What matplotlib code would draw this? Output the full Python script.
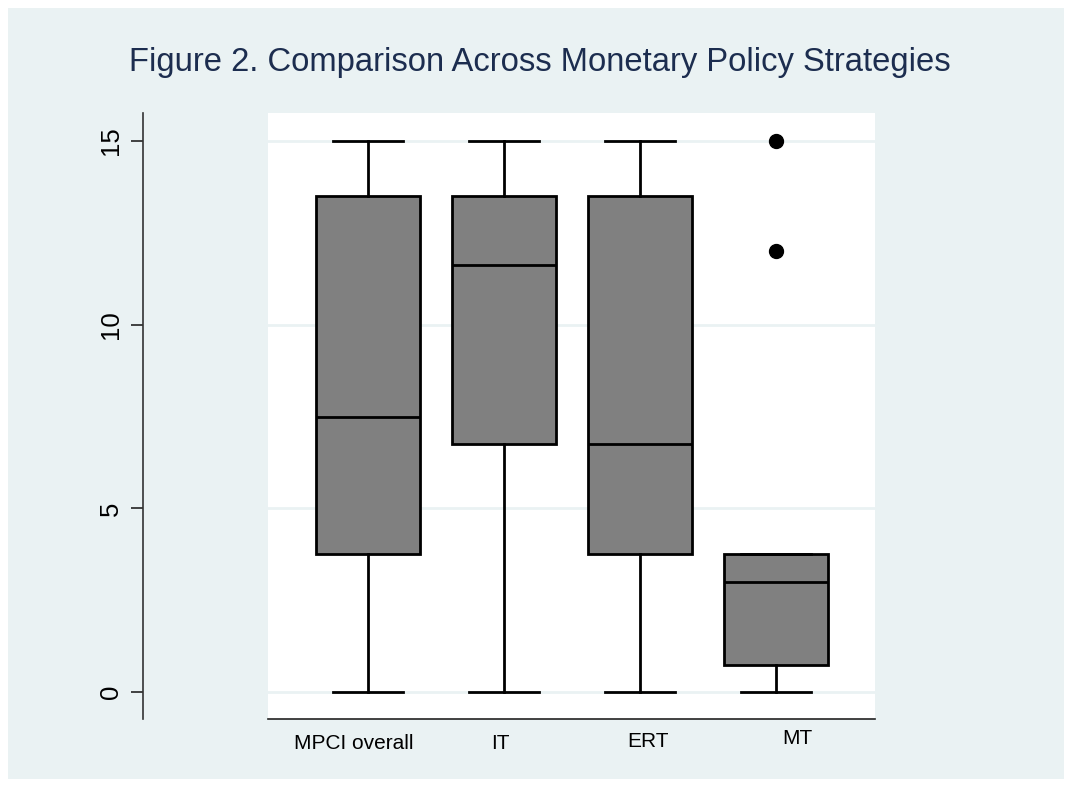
import matplotlib.pyplot as plt
from matplotlib.patches import Rectangle
from matplotlib.transforms import ScaledTranslation

# ---------- Data ----------
groups = ['MPCI overall', 'IT', 'ERT', 'MT']
whislo = [0, 0, 0, 0]
q1 = [3.75, 6.75, 3.75, 0.75]
med = [7.5, 11.63, 6.75, 3.0]
q3 = [13.5, 13.5, 13.5, 3.75]
whishi = [15, 15, 15, 3.75]
outliers = [[], [], [], [12, 15]]
yticks = [0, 5, 10, 15]

# label nudges in pixels (x, y), the source labels sit a bit off-centre
label_dx = [-14, -4, 8, 21]
label_dy = [0, 0, 2, 5]

BG = '#EAF2F3'

plt.rcParams['font.family'] = ['Liberation Sans', 'DejaVu Sans']

fig = plt.figure(figsize=(10.72, 7.87), dpi=100, facecolor='white')
fig.patches.append(Rectangle((8 / 1072, 8 / 787), 1 - 16 / 1072, 1 - 16 / 787,
                             transform=fig.transFigure, facecolor=BG,
                             edgecolor='none', zorder=-10))

ax = fig.add_axes([268 / 1072, 1 - 719 / 787, 607 / 1072, 606 / 787])
ax.set_facecolor('white')

# spines first, moving the left spine resets the ticks
ax.spines['top'].set_visible(False)
ax.spines['right'].set_visible(False)
ax.spines['left'].set_position(('outward', 90))
ax.spines['left'].set_color('#333333')
ax.spines['left'].set_linewidth(1.2)
ax.spines['bottom'].set_color('#222222')
ax.spines['bottom'].set_linewidth(1.2)

stats = []
for i, g in enumerate(groups):
    stats.append(dict(label=g, whislo=whislo[i], q1=q1[i], med=med[i],
                      q3=q3[i], whishi=whishi[i], fliers=outliers[i]))

lw = 2.0
ax.bxp(stats, positions=[1, 2, 3, 4], widths=0.76, patch_artist=True,
       showfliers=True, capwidths=0.52,
       boxprops=dict(facecolor='#808080', edgecolor='black', linewidth=lw),
       medianprops=dict(color='black', linewidth=lw),
       whiskerprops=dict(color='black', linewidth=lw),
       capprops=dict(color='black', linewidth=lw),
       flierprops=dict(marker='o', markerfacecolor='black',
                       markeredgecolor='black', markersize=10))

ax.set_xlim(1 - 100 / 136, 4 + 99 / 136)
ax.set_ylim(-0.73, 15 + 28 / 36.75)

for y in yticks:
    ax.axhline(y, color=BG, linewidth=2, zorder=0)

ax.set_yticks(yticks)
ax.set_yticklabels([str(v) for v in yticks])
ax.tick_params(axis='y', which='major', left=True, direction='out',
               length=8.5, width=1.3, color='#333333',
               labelsize=18.5, pad=6, labelrotation=90)
for lab in ax.get_yticklabels():
    lab.set_verticalalignment('center')
ax.tick_params(axis='x', length=0, labelsize=15, pad=11)

for lab, dx, dy in zip(ax.get_xticklabels(), label_dx, label_dy):
    lab.set_transform(lab.get_transform() +
                      ScaledTranslation(dx / 100, dy / 100, fig.dpi_scale_trans))

fig.text(0.504, 1 - 62 / 787, 'Figure 2. Comparison Across Monetary Policy Strategies',
         ha='center', va='center', fontsize=23.6, color='#1C2D4F')

fig.savefig('out.png', dpi=100, facecolor=fig.get_facecolor())
